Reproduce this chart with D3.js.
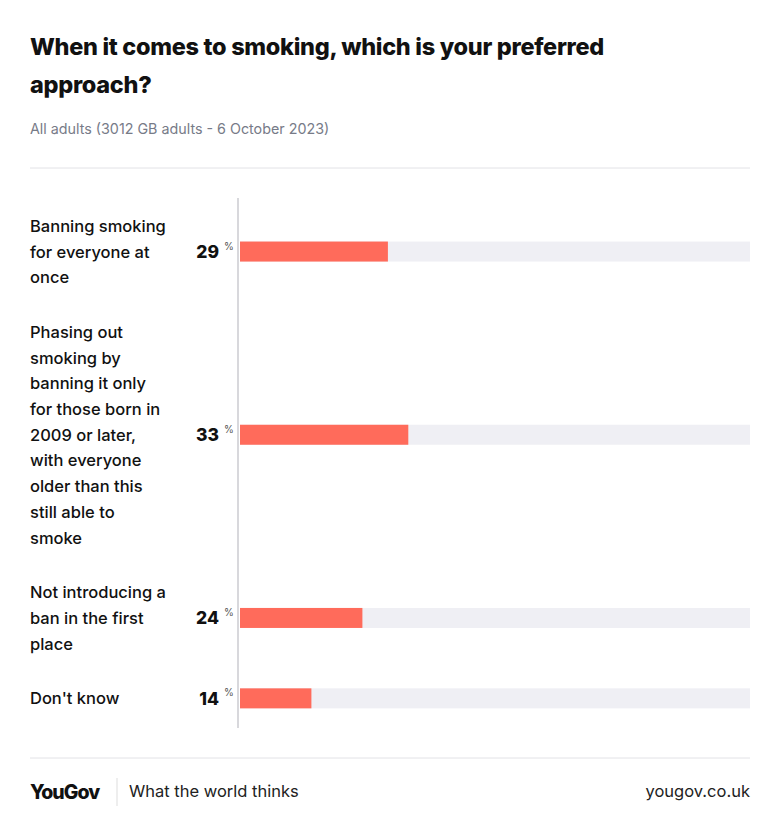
<!DOCTYPE html>
<html><head><meta charset="utf-8">
<script src="https://cdn.jsdelivr.net/npm/d3@7"></script>
<style>body{margin:0;background:#fff;font-family:Inter,"Noto Sans",sans-serif;}</style>
</head><body><svg id="c" width="780" height="836"></svg>
<script>
const categories = [
  ["Banning smoking","for everyone at","once"],
  ["Phasing out","smoking by","banning it only","for those born in","2009 or later,","with everyone","older than this","still able to","smoke"],
  ["Not introducing a","ban in the first","place"],
  ["Don't know"]
];
const values = [29, 33, 24, 14];

const svg = d3.select("#c");
svg.append("text").attr("x",30).attr("y",55).attr("font-size",23.5).attr("font-weight",800).attr("letter-spacing",-0.3).attr("fill","#111").text("When it comes to smoking, which is your preferred");
svg.append("text").attr("x",30).attr("y",93).attr("font-size",23.5).attr("font-weight",800).attr("letter-spacing",-0.3).attr("fill","#111").text("approach?");
svg.append("text").attr("x",30).attr("y",134).attr("font-size",14.3).attr("fill","#777b88").text("All adults (3012 GB adults - 6 October 2023)");
svg.append("line").attr("x1",30).attr("x2",750).attr("y1",168).attr("y2",168).attr("stroke","#e2e2e6");

const x = d3.scaleLinear().domain([0,100]).range([240,750]);
const lh = 25.7, gap = 29;
let y0 = 213;
const rows = categories.map((lines,i)=>{
  const h = lines.length*lh;
  const r = {lines, v: values[i], top: y0, c: y0 + h/2};
  y0 += h + gap; return r;
});
svg.append("line").attr("x1",238).attr("x2",238).attr("y1",198).attr("y2",728).attr("stroke","#d8d8dc").attr("stroke-width",2);
const g = svg.selectAll("g.row").data(rows).join("g");
g.append("rect").attr("x",x(0)).attr("width",x(100)-x(0)).attr("y",d=>d.c-10).attr("height",20).attr("fill","#efeff4");
g.append("rect").attr("x",x(0)).attr("width",d=>x(d.v)-x(0)).attr("y",d=>d.c-10).attr("height",20).attr("fill","#ff6b5b");
g.append("text").attr("x",219).attr("y",d=>d.c+6.5).attr("text-anchor","end").attr("font-size",17.5).attr("font-weight",800).attr("fill","#111").text(d=>d.v);
g.append("text").attr("x",224).attr("y",d=>d.c-2).attr("font-size",10).attr("fill","#555").text("%");
g.each(function(d){
  const t = d3.select(this).append("text").attr("font-size",16.5).attr("fill","#111").attr("font-weight",500);
  d.lines.forEach((l,j)=>t.append("tspan").attr("x",30).attr("y",d.c-(d.lines.length-1)*lh/2+j*lh+6).text(l));
});
svg.append("line").attr("x1",30).attr("x2",750).attr("y1",758).attr("y2",758).attr("stroke","#e2e2e6");
svg.append("text").attr("x",30).attr("y",799).attr("font-size",19.5).attr("font-weight",800).attr("letter-spacing",-1).attr("fill","#111").text("YouGov");
svg.append("line").attr("x1",117).attr("x2",117).attr("y1",778).attr("y2",806).attr("stroke","#ddd");
svg.append("text").attr("x",129).attr("y",797).attr("font-size",16.5).attr("fill","#222").text("What the world thinks");
svg.append("text").attr("x",750).attr("y",797).attr("text-anchor","end").attr("font-size",16.5).attr("fill","#222").text("yougov.co.uk");
</script></body></html>
